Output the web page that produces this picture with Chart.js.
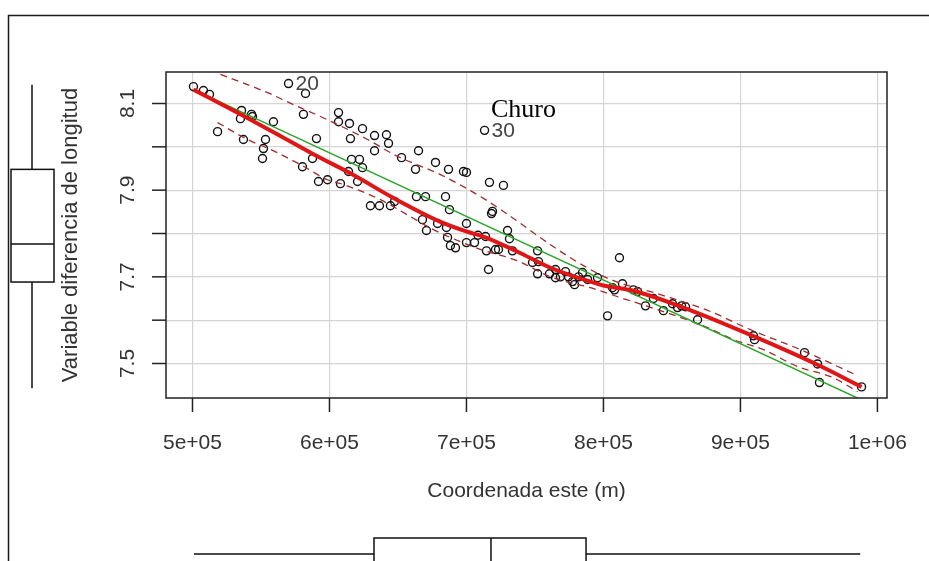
<!DOCTYPE html>
<html lang="es">
<head>
  <meta charset="UTF-8" />
  <title>Diferencia de longitud vs coordenada este</title>
  <script src="https://cdn.jsdelivr.net/npm/chart.js"></script>
  <style>
    body { margin: 0; background: #ffffff; }
    canvas { display: block; }
  </style>
</head>
<body>
  <canvas id="grafico" width="929" height="561"></canvas>

  <script>
    // Observaciones: coordenada este (m) y variable diferencia de longitud
    const esteX = [
      500700, 508000, 512400, 518300, 535800, 535000, 543100, 543800, 559100, 537200,
      553300, 551800, 551100, 570100, 582500, 581000, 590500, 587600, 580300, 592000,
      598600, 608000, 606600, 606600, 614600, 624100, 615300, 632900, 641600, 643100,
      632900, 616100, 621900, 624100, 613900, 620500, 629900, 636500, 644500, 647500,
      652600, 662800, 665000, 677400, 686900, 697800, 700000, 663500, 670100, 684700,
      687600, 667900, 670800, 678900, 700000, 685400, 686200, 688300, 692000, 700000,
      705900, 713200, 716800, 727000, 719000, 718300, 713900, 714600, 721200, 723400,
      716100, 730000, 731400, 733600, 751900, 752600, 748200, 751900, 760600, 765000,
      765000, 768600, 772300, 774500, 777400, 778900, 781800, 784700, 788400, 795700,
      811700, 803000, 806600, 813900, 808100, 821900, 824900, 830700, 836500, 843800,
      850400, 854100, 859900, 857000, 868700, 909500, 910300, 946800, 956300, 957700,
      988400, 708400
    ];
    const difLong = [
      8.139, 8.130, 8.121, 8.035, 8.084, 8.065, 8.075, 8.070, 8.058, 8.017,
      8.017, 7.996, 7.973, 8.146, 8.123, 8.075, 8.019, 7.973, 7.954, 7.920,
      7.924, 7.915, 8.079, 8.058, 8.054, 8.042, 8.019, 8.026, 8.028, 8.008,
      7.991, 7.971, 7.971, 7.952, 7.943, 7.920, 7.864, 7.864, 7.864, 7.874,
      7.975, 7.948, 7.991, 7.964, 7.948, 7.943, 7.941, 7.885, 7.885, 7.885,
      7.855, 7.832, 7.807, 7.823, 7.823, 7.814, 7.791, 7.772, 7.767, 7.779,
      7.779, 8.038, 7.918, 7.911, 7.851, 7.846, 7.793, 7.760, 7.763, 7.763,
      7.717, 7.807, 7.788, 7.760, 7.760, 7.735, 7.733, 7.707, 7.707, 7.717,
      7.698, 7.700, 7.712, 7.700, 7.689, 7.682, 7.700, 7.710, 7.694, 7.698,
      7.744, 7.610, 7.675, 7.684, 7.670, 7.670, 7.666, 7.633, 7.650, 7.622,
      7.638, 7.629, 7.631, 7.633, 7.601, 7.564, 7.555, 7.525, 7.499, 7.456,
      7.446, 7.796
    ];
    // puntos identificados
    const idIndice = [13, 61];
    const idTexto = ['20', '30'];

    // recta de regresión lineal
    const mcoX = [500700, 988400];
    const mcoY = [8.132, 7.416];

    // suavizado (loess)
    const loessX = [500700, 535000, 564200, 588300, 617500, 646700, 681000, 700800, 712400,
      737300, 761300, 785400, 800000, 821900, 858400, 907300, 956300, 988400];
    const loessY = [8.132, 8.075, 8.025, 7.983, 7.935, 7.882, 7.827, 7.804, 7.793,
      7.758, 7.721, 7.694, 7.680, 7.668, 7.629, 7.566, 7.497, 7.446];

    // bandas de dispersión (superior e inferior)
    const dispSupX = [520400, 554800, 576700, 593400, 627800, 649700, 681000, 712400, 736500,
      761300, 785400, 805100, 841600, 878100, 907300, 943800, 985500];
    const dispSupY = [8.167, 8.125, 8.093, 8.070, 8.017, 7.978, 7.936, 7.881, 7.830,
      7.774, 7.726, 7.694, 7.659, 7.620, 7.578, 7.532, 7.472];
    const dispInfX = [518300, 540200, 556900, 578800, 598600, 610200, 637200, 659100, 675900,
      695600, 712400, 737300, 761300, 790500, 812400, 841600, 876000, 894900, 916800,
      941700, 967900, 985500];
    const dispInfY = [8.056, 8.017, 7.994, 7.959, 7.924, 7.913, 7.878, 7.839, 7.809,
      7.781, 7.761, 7.737, 7.700, 7.675, 7.652, 7.622, 7.583, 7.555, 7.532,
      7.493, 7.467, 7.435];

    // boxplots marginales: [mín, Q1, mediana, Q3, máx]
    const cajaX = [501100, 632500, 717900, 787300, 987500];
    const cajaY = [7.443, 7.688, 7.776, 7.948, 8.143];

    // ejes
    const xTicks = [500000, 600000, 700000, 800000, 900000, 1000000];
    const xTickLabels = ['5e+05', '6e+05', '7e+05', '8e+05', '9e+05', '1e+06'];
    const yTicks = [7.5, 7.6, 7.7, 7.8, 7.9, 8.0, 8.1];
    const yTickLabels = ['7.5', '', '7.7', '', '7.9', '', '8.1'];
    const anotacion = { texto: 'Churo', x: 741600, y: 8.085 };

    const fuente = '"Liberation Sans", Arial, sans-serif';

    function pares(xs, ys) {
      return xs.map((x, i) => ({ x: x, y: ys[i] }));
    }

    // caja, ticks, textos y boxplots al estilo de R
    const decoracion = {
      id: 'decoracion',
      afterDraw(chart) {
        const ctx = chart.ctx;
        const a = chart.chartArea;
        const sx = chart.scales.x;
        const sy = chart.scales.y;
        ctx.save();

        // marco exterior
        ctx.strokeStyle = '#1a1a1a';
        ctx.lineWidth = 1.5;
        ctx.beginPath();
        ctx.moveTo(8.5, 561);
        ctx.lineTo(8.5, 15.5);
        ctx.lineTo(929, 15.5);
        ctx.stroke();

        // caja del gráfico
        ctx.strokeStyle = '#222';
        ctx.lineWidth = 1.5;
        ctx.strokeRect(a.left, a.top, a.right - a.left, a.bottom - a.top);

        // ticks del eje x
        ctx.fillStyle = '#333';
        ctx.font = '21px ' + fuente;
        ctx.textAlign = 'center';
        ctx.textBaseline = 'middle';
        xTicks.forEach((v, i) => {
          const px = sx.getPixelForValue(v);
          ctx.beginPath();
          ctx.moveTo(px, a.bottom);
          ctx.lineTo(px, a.bottom + 14);
          ctx.stroke();
          ctx.fillText(xTickLabels[i], px, 443);
        });

        // ticks del eje y (etiquetas giradas)
        yTicks.forEach((v, i) => {
          const py = sy.getPixelForValue(v);
          ctx.beginPath();
          ctx.moveTo(a.left - 14, py);
          ctx.lineTo(a.left, py);
          ctx.stroke();
          if (yTickLabels[i]) {
            ctx.save();
            ctx.translate(128, py);
            ctx.rotate(-Math.PI / 2);
            ctx.fillText(yTickLabels[i], 0, 0);
            ctx.restore();
          }
        });

        // títulos de los ejes
        ctx.font = '21px ' + fuente;
        ctx.fillText('Coordenada este (m)', (a.left + a.right) / 2, 491);
        ctx.save();
        ctx.translate(71, (a.top + a.bottom) / 2);
        ctx.rotate(-Math.PI / 2);
        ctx.font = '22px ' + fuente;
        ctx.fillText('Variable diferencia de longitud', 0, 0);
        ctx.restore();

        // etiquetas de puntos identificados
        ctx.fillStyle = '#444';
        ctx.font = '21px ' + fuente;
        ctx.textAlign = 'left';
        idIndice.forEach((k, i) => {
          const px = sx.getPixelForValue(esteX[k]);
          const py = sy.getPixelForValue(difLong[k]);
          ctx.fillText(idTexto[i], px + 7, py + 1);
        });

        // anotación
        ctx.fillStyle = '#000';
        ctx.font = '26px "Liberation Serif", "Times New Roman", serif';
        ctx.textAlign = 'center';
        ctx.fillText(anotacion.texto, sx.getPixelForValue(anotacion.x), sy.getPixelForValue(anotacion.y));

        // boxplot marginal vertical (izquierda)
        ctx.strokeStyle = '#111';
        ctx.lineWidth = 1.5;
        const yp = cajaY.map(v => sy.getPixelForValue(v));
        ctx.beginPath();
        ctx.moveTo(32, yp[0]); ctx.lineTo(32, yp[1]);
        ctx.moveTo(32, yp[3]); ctx.lineTo(32, yp[4]);
        ctx.moveTo(11, yp[2]); ctx.lineTo(54, yp[2]);
        ctx.stroke();
        ctx.strokeRect(11, yp[3], 43, yp[1] - yp[3]);

        // boxplot marginal horizontal (abajo)
        const xp = cajaX.map(v => sx.getPixelForValue(v));
        ctx.beginPath();
        ctx.moveTo(xp[0], 554); ctx.lineTo(xp[1], 554);
        ctx.moveTo(xp[3], 554); ctx.lineTo(xp[4], 554);
        ctx.moveTo(xp[2], 538); ctx.lineTo(xp[2], 570);
        ctx.stroke();
        ctx.strokeRect(xp[1], 538, xp[3] - xp[1], 40);

        ctx.restore();
      }
    };

    const ctx = document.getElementById('grafico').getContext('2d');
    new Chart(ctx, {
      type: 'scatter',
      data: {
        datasets: [
          {
            label: 'loess',
            data: pares(loessX, loessY),
            showLine: true,
            borderColor: '#e01515',
            borderWidth: 4,
            pointRadius: 0,
            tension: 0.4,
            cubicInterpolationMode: 'monotone',
            order: 1
          },
          {
            label: 'mco',
            data: pares(mcoX, mcoY),
            showLine: true,
            borderColor: '#2aa52a',
            borderWidth: 1.5,
            pointRadius: 0,
            order: 2
          },
          {
            label: 'dispersión superior',
            data: pares(dispSupX, dispSupY),
            showLine: true,
            borderColor: '#a02c2c',
            borderWidth: 1.3,
            borderDash: [7, 5],
            pointRadius: 0,
            tension: 0.4,
            cubicInterpolationMode: 'monotone',
            order: 3
          },
          {
            label: 'dispersión inferior',
            data: pares(dispInfX, dispInfY),
            showLine: true,
            borderColor: '#a02c2c',
            borderWidth: 1.3,
            borderDash: [7, 5],
            pointRadius: 0,
            tension: 0.4,
            cubicInterpolationMode: 'monotone',
            order: 3
          },
          {
            label: 'datos',
            data: pares(esteX, difLong),
            pointRadius: 4,
            pointBorderWidth: 1.4,
            pointBackgroundColor: 'rgba(0,0,0,0)',
            pointBorderColor: '#111',
            order: 5
          }
        ]
      },
      options: {
        responsive: false,
        animation: false,
        devicePixelRatio: 1,
        layout: { padding: { top: 72, right: 42, left: 0, bottom: 0 } },
        plugins: {
          legend: { display: false },
          tooltip: { enabled: false }
        },
        scales: {
          x: {
            type: 'linear',
            min: 480660,
            max: 1007000,
            border: { display: false },
            grid: { color: '#d4d4d4', lineWidth: 1.2, drawTicks: false },
            ticks: { display: false },
            afterBuildTicks: (scale) => { scale.ticks = xTicks.map(v => ({ value: v })); },
            afterFit: (scale) => { scale.height = 163; }
          },
          y: {
            type: 'linear',
            min: 7.4204,
            max: 8.1727,
            border: { display: false },
            grid: { color: '#d4d4d4', lineWidth: 1.2, drawTicks: false },
            ticks: { display: false },
            afterBuildTicks: (scale) => { scale.ticks = yTicks.map(v => ({ value: v })); },
            afterFit: (scale) => { scale.width = 166; }
          }
        }
      },
      plugins: [decoracion]
    });
  </script>
</body>
</html>
